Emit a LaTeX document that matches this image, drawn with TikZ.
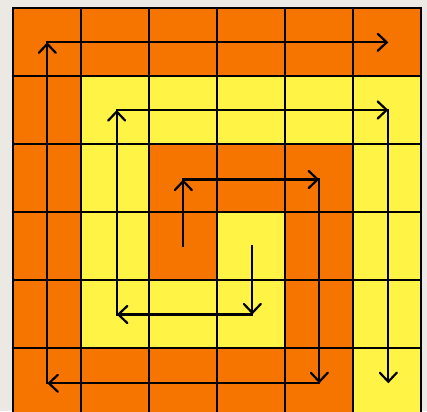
\documentclass[tikz,border=0pt]{standalone}
\usetikzlibrary{arrows.meta}
\definecolor{bg}{HTML}{ECE9E4}
\definecolor{org}{HTML}{F67400}
\definecolor{yel}{HTML}{FFF345}
\begin{document}
\begin{tikzpicture}[x=1pt,y=-1pt,
  cellbox/.style={draw=black,line width=1.6pt},
  arr/.style={line width=2.2pt,line cap=rect,-{Straight Barb[length=9pt,width=17pt,line width=2.2pt,line cap=round]}}]
\useasboundingbox (0,0) rectangle (427,411);
\fill[bg] (0,0) rectangle (427,411);
\begin{scope}
\clip (0,0) rectangle (427,411);
\foreach \row [count=\r from 0] in {{org,org,org,org,org,org},{org,yel,yel,yel,yel,yel},{org,yel,org,org,org,yel},{org,yel,org,yel,org,yel},{org,yel,yel,yel,org,yel},{org,org,org,org,org,yel}}{
  \foreach \col [count=\c from 0] in \row {
    \filldraw[cellbox,fill=\col] ({13+68*\c},{8+68*\r}) rectangle ++(68,68);
  }
}
\end{scope}
\foreach \x [count=\c from 0] in {47.3,116.7,183.3,252.3,319.3,388.3}{
  \foreach \y [count=\r from 0] in {42.3,110,179.5,246,314.5,383.3}{
    \coordinate (p\c\r) at (\x,\y);
  }
}
% orange spiral
\draw[arr] (p23) -- (p22);
\draw[arr] (p22) -- (p42);
\draw[arr] (p42) -- (p45);
\draw[arr] (p45) -- (p05);
\draw[arr] (p05) -- (p00);
\draw[arr] (p00) -- (p50);
% yellow spiral
\draw[arr] (p33) -- (p34);
\draw[arr] (p34) -- (p14);
\draw[arr] (p14) -- (p11);
\draw[arr] (p11) -- (p51);
\draw[arr] (p51) -- (p55);
\end{tikzpicture}
\end{document}
